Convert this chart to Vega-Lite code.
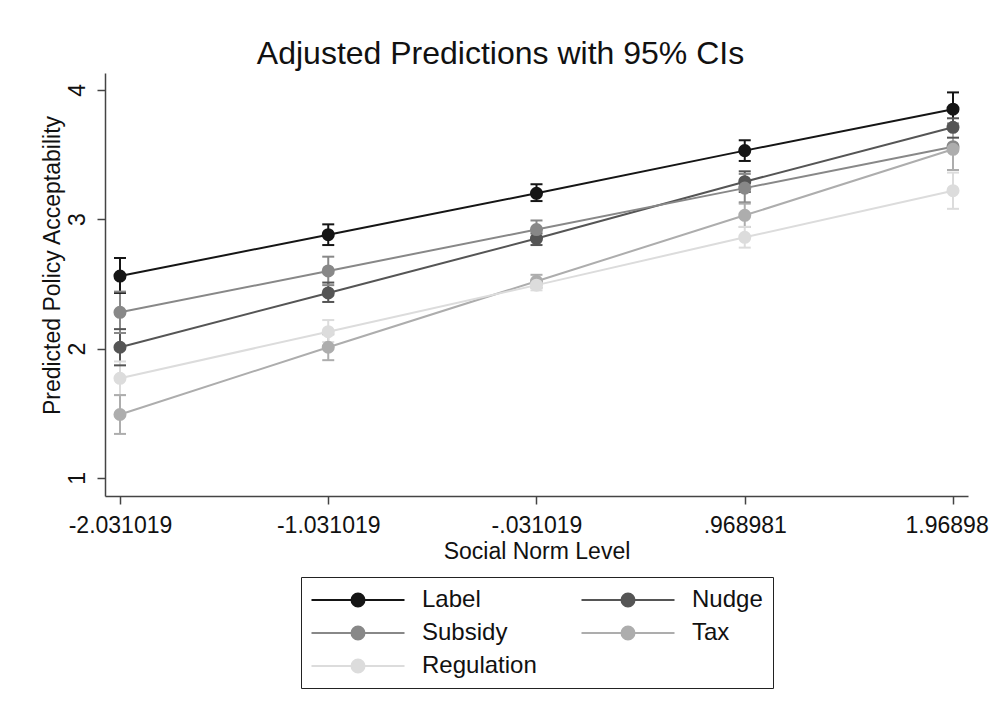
{
  "$schema": "https://vega.github.io/schema/vega-lite/v6.json",
  "width": 863,
  "height": 423,
  "autosize": {"type": "none"},
  "padding": {"left": 105, "top": 73, "right": 21, "bottom": 224},
  "background": "white",
  "config": {
    "font": "Liberation Sans",
    "view": {"stroke": null},
    "axis": {
      "grid": false,
      "domainColor": "#444444",
      "domainWidth": 1.5,
      "tickColor": "#444444",
      "tickWidth": 1.5,
      "tickSize": 8,
      "labelFontSize": 23,
      "labelColor": "#111111",
      "titleFontSize": 23,
      "titleFontWeight": "normal",
      "titleColor": "#111111",
      "labelFlush": false,
      "labelOverlap": false,
      "labelBound": false
    },
    "axisY": {
      "labelAngle": -90,
      "labelAlign": "center",
      "labelBaseline": "alphabetic",
      "labelPadding": 13,
      "titlePadding": 2
    },
    "axisX": {
      "labelPadding": 10,
      "titlePadding": 3
    }
  },
  "title": {
    "text": "Adjusted Predictions with 95% CIs",
    "fontSize": 32,
    "fontWeight": "normal",
    "color": "#111111",
    "anchor": "middle",
    "baseline": "alphabetic",
    "offset": 9,
    "dx": -36,
    "dy": 32
  },
  "data": {
    "values": [
      {"level": -2.031019, "type": "Label", "margin": 2.56, "lo": 2.43, "hi": 2.70},
      {"level": -1.031019, "type": "Label", "margin": 2.88, "lo": 2.80, "hi": 2.96},
      {"level": -0.031019, "type": "Label", "margin": 3.20, "lo": 3.14, "hi": 3.27},
      {"level": 0.968981, "type": "Label", "margin": 3.53, "lo": 3.45, "hi": 3.61},
      {"level": 1.968981, "type": "Label", "margin": 3.85, "lo": 3.72, "hi": 3.98},
      {"level": -2.031019, "type": "Nudge", "margin": 2.01, "lo": 1.87, "hi": 2.15},
      {"level": -1.031019, "type": "Nudge", "margin": 2.43, "lo": 2.36, "hi": 2.51},
      {"level": -0.031019, "type": "Nudge", "margin": 2.85, "lo": 2.80, "hi": 2.89},
      {"level": 0.968981, "type": "Nudge", "margin": 3.29, "lo": 3.21, "hi": 3.37},
      {"level": 1.968981, "type": "Nudge", "margin": 3.71, "lo": 3.63, "hi": 3.78},
      {"level": -2.031019, "type": "Subsidy", "margin": 2.28, "lo": 2.12, "hi": 2.44},
      {"level": -1.031019, "type": "Subsidy", "margin": 2.60, "lo": 2.49, "hi": 2.71},
      {"level": -0.031019, "type": "Subsidy", "margin": 2.92, "lo": 2.86, "hi": 2.99},
      {"level": 0.968981, "type": "Subsidy", "margin": 3.24, "lo": 3.13, "hi": 3.35},
      {"level": 1.968981, "type": "Subsidy", "margin": 3.56, "lo": 3.38, "hi": 3.74},
      {"level": -2.031019, "type": "Tax", "margin": 1.49, "lo": 1.34, "hi": 1.64},
      {"level": -1.031019, "type": "Tax", "margin": 2.01, "lo": 1.91, "hi": 2.11},
      {"level": -0.031019, "type": "Tax", "margin": 2.52, "lo": 2.47, "hi": 2.57},
      {"level": 0.968981, "type": "Tax", "margin": 3.03, "lo": 2.94, "hi": 3.12},
      {"level": 1.968981, "type": "Tax", "margin": 3.54, "lo": 3.38, "hi": 3.70},
      {"level": -2.031019, "type": "Regulation", "margin": 1.77, "lo": 1.64, "hi": 1.90},
      {"level": -1.031019, "type": "Regulation", "margin": 2.13, "lo": 2.05, "hi": 2.22},
      {"level": -0.031019, "type": "Regulation", "margin": 2.49, "lo": 2.45, "hi": 2.53},
      {"level": 0.968981, "type": "Regulation", "margin": 2.86, "lo": 2.78, "hi": 2.94},
      {"level": 1.968981, "type": "Regulation", "margin": 3.22, "lo": 3.08, "hi": 3.36}
    ]
  },
  "encoding": {
    "x": {
      "field": "level",
      "type": "quantitative",
      "scale": {"domain": [-2.103, 2.041], "nice": false, "zero": false},
      "axis": {
        "title": "Social Norm Level",
        "values": [-2.031019, -1.031019, -0.031019, 0.968981, 1.968981],
        "labelExpr": "datum.value < -2 ? '-2.031019' : datum.value < -1 ? '-1.031019' : datum.value < 0 ? '-.031019' : datum.value < 1 ? '.968981' : '1.968981'"
      }
    },
    "color": {
      "field": "type",
      "type": "nominal",
      "scale": {
        "domain": ["Label", "Nudge", "Subsidy", "Tax", "Regulation"],
        "range": ["#151515", "#555555", "#888888", "#adadad", "#dcdcdc"]
      },
      "legend": {
        "orient": "none",
        "legendX": 196,
        "legendY": 504,
        "title": null,
        "direction": "horizontal",
        "columns": 2,
        "symbolType": "M-7.154,0H7.154M-1,0A1,1,0,1,1,1,0A1,1,0,1,1,-1,0Z",
        "symbolSize": 169,
        "symbolStrokeWidth": 2,
        "symbolOffset": 35,
        "labelFontSize": 24,
        "labelColor": "#111111",
        "labelOffset": 52,
        "labelLimit": 300,
        "columnPadding": 40,
        "rowPadding": 8,
        "padding": 10,
        "strokeColor": "#222222",
        "fillColor": "white",
        "encode": {
          "symbols": {
            "update": {
              "y": {"value": 13},
              "fill": {"scale": "color", "field": "value"},
              "stroke": {"scale": "color", "field": "value"},
              "opacity": {"value": 1}
            }
          },
          "labels": {
            "update": {
              "y": {"value": 13}
            }
          }
        }
      }
    }
  },
  "layer": [
    {
      "mark": {"type": "rule", "strokeWidth": 2},
      "encoding": {
        "y": {
          "field": "lo", "type": "quantitative",
          "scale": {"domain": [0.86, 4.13], "nice": false, "zero": false},
          "title": "Predicted Policy Acceptability",
          "axis": {"values": [1, 2, 3, 4], "titleY": 192}
        },
        "y2": {"field": "hi"}
      }
    },
    {
      "mark": {"type": "tick", "orient": "horizontal", "size": 12, "thickness": 2, "opacity": 1},
      "encoding": {
        "y": {
          "field": "lo", "type": "quantitative",
          "scale": {"domain": [0.86, 4.13], "nice": false, "zero": false},
          "title": "Predicted Policy Acceptability",
          "axis": {"values": [1, 2, 3, 4], "titleY": 192}
        }
      }
    },
    {
      "mark": {"type": "tick", "orient": "horizontal", "size": 12, "thickness": 2, "opacity": 1},
      "encoding": {
        "y": {
          "field": "hi", "type": "quantitative",
          "scale": {"domain": [0.86, 4.13], "nice": false, "zero": false},
          "title": "Predicted Policy Acceptability",
          "axis": {"values": [1, 2, 3, 4], "titleY": 192}
        }
      }
    },
    {
      "mark": {"type": "line", "strokeWidth": 2},
      "encoding": {
        "y": {
          "field": "margin", "type": "quantitative",
          "scale": {"domain": [0.86, 4.13], "nice": false, "zero": false},
          "title": "Predicted Policy Acceptability",
          "axis": {"values": [1, 2, 3, 4], "titleY": 192}
        }
      }
    },
    {
      "mark": {"type": "point", "filled": true, "size": 170, "opacity": 1},
      "encoding": {
        "y": {
          "field": "margin", "type": "quantitative",
          "scale": {"domain": [0.86, 4.13], "nice": false, "zero": false},
          "title": "Predicted Policy Acceptability",
          "axis": {"values": [1, 2, 3, 4], "titleY": 192}
        }
      }
    }
  ]
}
